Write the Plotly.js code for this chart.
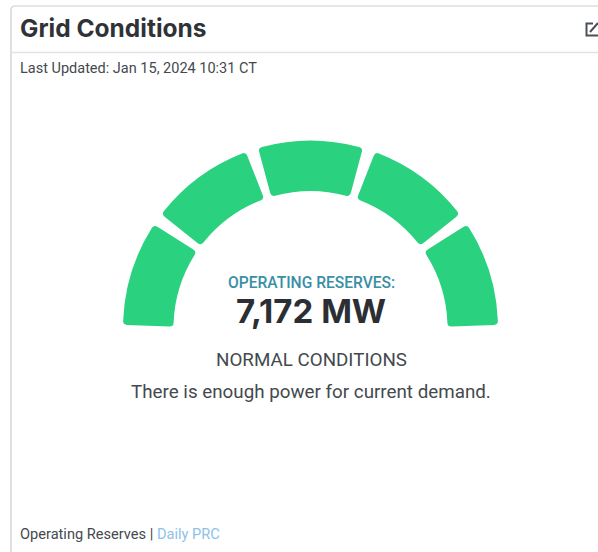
<!DOCTYPE html>
<html><head><meta charset="utf-8">
<script src="https://cdn.plot.ly/plotly-3.0.1.min.js"></script>
<style>
html,body{margin:0;padding:0;background:#fff;overflow:hidden}
#chart{width:598px;height:552px}
.slice path.surface{stroke-linejoin:round}
</style></head><body><div id="chart"></div>
<script>
var bandNames = ['Band 1','Band 2','Band 3','Band 4','Band 5'];
var bandSweep = [30,30,30,30,30];
var gapSweep = 6.4;
var bandColor = '#2AD27F';
var titleText = 'Grid Conditions';
var updatedText = 'Last Updated: Jan 15, 2024 10:31 CT';
var reserveLabel = 'OPERATING RESERVES:';
var reserveValue = '7,172 MW';
var statusText = 'NORMAL CONDITIONS';
var statusDetail = 'There is enough power for current demand.';

var W=598,H=552;
function px(x){return x/W;}
function py(y){return 1-y/H;}

var labels=[],values=[],colors=[],lineW=[];
var total=0;
bandSweep.forEach(function(v,i){
  labels.push(bandNames[i]);values.push(v);colors.push(bandColor);lineW.push(8);total+=v;
  if(i<bandSweep.length-1){labels.push('gap'+i);values.push(gapSweep);colors.push('rgba(0,0,0,0)');lineW.push(0);total+=gapSweep;}
});
labels.push('hidden');values.push(360-total);colors.push('rgba(0,0,0,0)');lineW.push(0);

var cx=310.5,cy=328,R=183.5;
var trace={type:'pie',labels:labels,values:values,sort:false,direction:'clockwise',
  rotation:-87.8,hole:141/183.5,textinfo:'none',hoverinfo:'skip',showlegend:false,
  domain:{x:[px(cx-R),px(cx+R)],y:[py(cy+R),py(cy-R)]},
  marker:{colors:colors,line:{color:colors,width:lineW}}};

function note(x,y,text,size,color,anchor,family,weight){
  return {xref:'paper',yref:'paper',x:px(x),y:py(y),text:text,showarrow:false,xanchor:anchor||'left',yanchor:'middle',
    font:{family:family||'Roboto',size:size,color:color,weight:weight||400},align:anchor||'left',borderpad:0};
}
var dark='#44494E';
var annotations=[
  note(19,28,titleText,24.5,'#2f3337','left','Inter',700),
  note(19,68,updatedText,14.5,dark),
  note(311,283,reserveLabel,15.6,'#3A8FA6','center','Roboto',500),
  note(311,311,reserveValue,33,'#2b2f33','center','Inter',700),
  note(311,360,statusText,18.8,dark,'center'),
  note(311,392,statusDetail,18.8,dark,'center'),
  note(19,534,'Operating Reserves | <span style="color:#8FC1EA">Daily PRC</span>',14.6,dark)
];
function P(x,y){return px(x).toFixed(5)+','+py(y).toFixed(5);}
var shapes=[
  {type:'path',xref:'paper',yref:'paper',path:'M'+P(11,552)+' L'+P(11,10)+' Q'+P(11,6)+' '+P(15,6)+' L'+P(598,6),line:{color:'#C9CDD1',width:1.2}},
  {type:'line',xref:'paper',yref:'paper',x0:px(11),x1:1,y0:py(52.5),y1:py(52.5),line:{color:'#E2E3E4',width:1.5}},
  {type:'path',xref:'paper',yref:'paper',path:'M'+P(593,23.5)+' L'+P(586.5,23.5)+' L'+P(586.5,35.5)+' L'+P(598,35.5),line:{color:'#4A5058',width:2}},
  {type:'line',xref:'paper',yref:'paper',x0:px(590),x1:px(598),y0:py(32),y1:py(23),line:{color:'#4A5058',width:2}}
];
Plotly.newPlot('chart',[trace],{width:W,height:H,margin:{l:0,r:0,t:0,b:0,pad:0},paper_bgcolor:'#fff',plot_bgcolor:'#fff',
  annotations:annotations,shapes:shapes},{displayModeBar:false,staticPlot:true});
</script></body></html>
